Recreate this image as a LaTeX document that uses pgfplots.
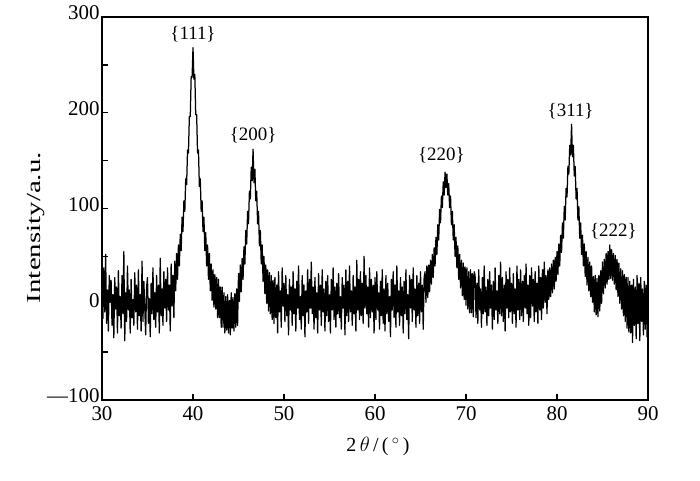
\documentclass[border=0pt]{standalone}
\usepackage{graphicx}
\usepackage{pgfplots}
\pgfplotsset{compat=1.18}
\usepackage{fontspec}
\setmainfont{Liberation Serif}

\begin{document}
\begin{tikzpicture}
\path[use as bounding box] (-102bp,-81bp) rectangle (598bp,400bp);

\begin{axis}[
    at={(0,0)}, anchor=south west,
    scale only axis,
    width=546bp, height=383bp,
    xmin=30, xmax=90, ymin=-100, ymax=300,
    xtick={30,40,...,90},
    ytick={-100,0,100,200,300},
    yticklabels={—100,0,100,200,300},
    minor ytick={-50,50,150,250},
    xtick pos=bottom, ytick pos=left,
    tick align=inside,
    major tick length=6bp, minor tick length=6bp,
    axis line style={line width=1.4bp},
    every tick/.style={line width=1.4bp, black},
    tick label style={font=\fontsize{21}{23}\selectfont},
    xticklabel style={yshift=-3bp},
    yticklabel style={xshift=1bp, yshift=4bp},
    /pgf/number format/assume math mode=true,
    label style={font=\fontsize{20}{22}\selectfont},
    xlabel={2\,$\theta$\,/\,(\,$^\circ$\,)},
    ylabel={\scalebox{1.45}[1]{Intensity/a.u.}},
    xlabel style={yshift=-10bp, xshift=3bp},
    ylabel style={at={(ticklabel cs:0.45)}, yshift=-4bp},
    clip=true,
]

% XRD pattern
\addplot[black, line width=1.25bp, line join=round] coordinates {
(30.0,20) (30.1,-15) (30.2,38) (30.3,-8) (30.4,52) (30.5,-20) (30.6,15) (30.7,-28) (30.8,30) (30.9,2)
(31.0,25) (31.1,-22) (31.2,10) (31.3,-35) (31.4,28) (31.5,-5) (31.6,18) (31.7,-30) (31.8,35) (31.9,-12)
(32.0,8) (32.1,-25) (32.2,30) (32.3,-10) (32.4,55) (32.5,-38) (32.6,12) (32.7,-18) (32.8,40) (32.9,-6)
(33.0,15) (33.1,-30) (33.2,26) (33.3,-14) (33.4,5) (33.5,-22) (33.6,33) (33.7,-8) (33.8,20) (33.9,-26)
(34.0,36) (34.1,-12) (34.2,10) (34.3,-28) (34.4,45) (34.5,-18) (34.6,24) (34.7,-4) (34.8,-32) (34.9,18)
(35.0,28) (35.1,-20) (35.2,6) (35.3,-34) (35.4,22) (35.5,-10) (35.6,38) (35.7,-16) (35.8,12) (35.9,-24)
(36.0,30) (36.1,-8) (36.2,20) (36.3,-30) (36.4,48) (36.5,-12) (36.6,16) (36.7,-22) (36.8,34) (36.9,-4)
(37.0,26) (37.1,-18) (37.2,38) (37.3,-6) (37.4,20) (37.5,-28) (37.6,42) (37.7,-2) (37.8,30) (37.9,-14)
(38.0,45) (38.1,14) (38.2,53) (38.3,26) (38.4,62) (38.5,40) (38.6,73) (38.7,56) (38.8,91) (38.9,76)
(39.0,108) (39.1,97) (39.2,131) (39.3,125) (39.4,161) (39.5,158) (39.6,196) (39.7,196) (39.8,238) (39.9,237)
(40.0,268) (40.1,235) (40.2,240) (40.3,198) (40.4,198) (40.5,158) (40.6,161) (40.7,123) (40.8,131) (40.9,97)
(41.0,108) (41.1,76) (41.2,91) (41.3,56) (41.4,75) (41.5,40) (41.6,62) (41.7,26) (41.8,53) (41.9,14)
(42.0,42) (42.1,4) (42.2,36) (42.3,-3) (42.4,31) (42.5,-5) (42.6,28) (42.7,-14) (42.8,26) (42.9,-14)
(43.0,18) (43.1,-24) (43.2,18) (43.3,-24) (43.4,12) (43.5,-30) (43.6,8) (43.7,-27) (43.8,10) (43.9,-30)
(44.0,4) (44.1,-32) (44.2,12) (44.3,-25) (44.4,7) (44.5,-28) (44.6,11) (44.7,-24) (44.8,16) (44.9,-22)
(45.0,32) (45.1,3) (45.2,41) (45.3,13) (45.4,48) (45.5,26) (45.6,60) (45.7,42) (45.8,77) (45.9,63)
(46.0,97) (46.1,84) (46.2,118) (46.3,110) (46.4,143) (46.5,129) (46.6,162) (46.7,127) (46.8,141) (46.9,108)
(47.0,118) (47.1,84) (47.2,97) (47.3,61) (47.4,77) (47.5,42) (47.6,62) (47.7,24) (47.8,50) (47.9,11)
(48.0,41) (48.1,1) (48.2,36) (48.3,-7) (48.4,33) (48.5,-10) (48.6,30) (48.7,-16) (48.8,25) (48.9,-20)
(49.0,28) (49.1,-14) (49.2,20) (49.3,-30) (49.4,34) (49.5,-8) (49.6,14) (49.7,-24) (49.8,38) (49.9,-2)
(50.0,22) (50.1,-18) (50.2,30) (50.3,-12) (50.4,10) (50.5,-32) (50.6,26) (50.7,-6) (50.8,18) (50.9,-22)
(51.0,34) (51.1,-10) (51.2,16) (51.3,-28) (51.4,24) (51.5,-4) (51.6,40) (51.7,-16) (51.8,8) (51.9,-26)
(52.0,30) (52.1,-12) (52.2,20) (52.3,-34) (52.4,14) (52.5,-8) (52.6,36) (52.7,-20) (52.8,26) (52.9,-4)
(53.0,44) (53.1,-10) (53.2,18) (53.3,-26) (53.4,28) (53.5,-14) (53.6,12) (53.7,-30) (53.8,32) (53.9,-6)
(54.0,20) (54.1,-22) (54.2,36) (54.3,-8) (54.4,16) (54.5,-28) (54.6,24) (54.7,-12) (54.8,30) (54.9,-18)
(55.0,10) (55.1,-30) (55.2,26) (55.3,-6) (55.4,38) (55.5,-16) (55.6,18) (55.7,-24) (55.8,22) (55.9,-10)
(56.0,32) (56.1,-14) (56.2,8) (56.3,-26) (56.4,28) (56.5,-4) (56.6,20) (56.7,-32) (56.8,36) (56.9,-12)
(57.0,24) (57.1,-18) (57.2,40) (57.3,-8) (57.4,14) (57.5,-22) (57.6,30) (57.7,-10) (57.8,18) (57.9,-28)
(58.0,46) (58.1,-6) (58.2,26) (58.3,-16) (58.4,34) (58.5,-12) (58.6,22) (58.7,-20) (58.8,50) (58.9,-4)
(59.0,30) (59.1,-10) (59.2,18) (59.3,-24) (59.4,38) (59.5,-14) (59.6,26) (59.7,-8) (59.8,20) (59.9,-30)
(60.0,28) (60.1,-16) (60.2,34) (60.3,-6) (60.4,12) (60.5,-26) (60.6,24) (60.7,-12) (60.8,36) (60.9,-20)
(61.0,16) (61.1,-28) (61.2,30) (61.3,-10) (61.4,22) (61.5,-18) (61.6,8) (61.7,-34) (61.8,26) (61.9,-6)
(62.0,34) (62.1,-14) (62.2,20) (62.3,-24) (62.4,40) (62.5,-8) (62.6,14) (62.7,-22) (62.8,28) (62.9,-12)
(63.0,18) (63.1,-30) (63.2,24) (63.3,-10) (63.4,36) (63.5,-16) (63.6,10) (63.7,-36) (63.8,30) (63.9,-4)
(64.0,26) (64.1,-18) (64.2,38) (64.3,-6) (64.4,16) (64.5,-24) (64.6,30) (64.7,-12) (64.8,22) (64.9,-20)
(65.0,34) (65.1,-8) (65.2,20) (65.3,-26) (65.4,28) (65.5,34) (65.6,2) (65.7,40) (65.8,7) (65.9,41)
(66.0,13) (66.1,46) (66.2,21) (66.3,52) (66.4,28) (66.5,59) (66.6,40) (66.7,70) (66.8,52) (66.9,83)
(67.0,67) (67.1,99) (67.2,85) (67.3,113) (67.4,101) (67.5,128) (67.6,114) (67.7,138) (67.8,122) (67.9,136)
(68.0,114) (68.1,126) (68.2,101) (68.3,113) (68.4,83) (68.5,97) (68.6,67) (68.7,83) (68.8,50) (68.9,70)
(69.0,38) (69.1,61) (69.2,26) (69.3,52) (69.4,17) (69.5,46) (69.6,9) (69.7,43) (69.8,5) (69.9,39)
(70.0,-1) (70.1,38) (70.2,-5) (70.3,34) (70.4,-9) (70.5,36) (70.6,-9) (70.7,32) (70.8,-13) (70.9,34)
(71.0,30) (71.1,-14) (71.2,22) (71.3,-20) (71.4,36) (71.5,-6) (71.6,16) (71.7,-24) (71.8,28) (71.9,-10)
(72.0,40) (72.1,-8) (72.2,18) (72.3,-22) (72.4,26) (72.5,-12) (72.6,34) (72.7,-4) (72.8,20) (72.9,-26)
(73.0,24) (73.1,-16) (73.2,38) (73.3,-6) (73.4,14) (73.5,-20) (73.6,30) (73.7,-10) (73.8,44) (73.9,-12)
(74.0,28) (74.1,-18) (74.2,20) (74.3,-28) (74.4,34) (74.5,-4) (74.6,26) (74.7,-14) (74.8,38) (74.9,-8)
(75.0,22) (75.1,-20) (75.2,32) (75.3,-10) (75.4,16) (75.5,-24) (75.6,40) (75.7,-6) (75.8,26) (75.9,-16)
(76.0,36) (76.1,-12) (76.2,24) (76.3,-18) (76.4,30) (76.5,-4) (76.6,42) (76.7,-10) (76.8,20) (76.9,-22)
(77.0,30) (77.1,-14) (77.2,38) (77.3,-2) (77.4,26) (77.5,-18) (77.6,34) (77.7,-8) (77.8,22) (77.9,-20)
(78.0,40) (78.1,-6) (78.2,28) (78.3,-16) (78.4,36) (78.5,-4) (78.6,44) (78.7,2) (78.8,30) (78.9,-10)
(79.0,36) (79.1,5) (79.2,38) (79.3,8) (79.4,42) (79.5,12) (79.6,46) (79.7,16) (79.8,49) (79.9,24)
(80.0,55) (80.1,31) (80.2,63) (80.3,40) (80.4,72) (80.5,54) (80.6,85) (80.7,69) (80.8,102) (80.9,88)
(81.0,121) (81.1,112) (81.2,144) (81.3,136) (81.4,166) (81.5,156) (81.6,188) (81.7,154) (81.8,166) (81.9,134)
(82.0,144) (82.1,110) (82.2,121) (82.3,88) (82.4,102) (82.5,69) (82.6,85) (82.7,52) (82.8,72) (82.9,40)
(83.0,63) (83.1,29) (83.2,55) (83.3,20) (83.4,49) (83.5,14) (83.6,44) (83.7,8) (83.8,40) (83.9,2)
(84.0,29) (84.1,-8) (84.2,30) (84.3,-11) (84.4,27) (84.5,-13) (84.6,30) (84.7,-7) (84.8,35) (84.9,1)
(85.0,44) (85.1,11) (85.2,47) (85.3,17) (85.4,53) (85.5,21) (85.6,55) (85.7,26) (85.8,62) (85.9,27)
(86.0,57) (86.1,25) (86.2,53) (86.3,21) (86.4,51) (86.5,15) (86.6,47) (86.7,8) (86.8,43) (86.9,1)
(87.0,37) (87.1,-5) (87.2,35) (87.3,-12) (87.4,31) (87.5,-18) (87.6,28) (87.7,-25) (87.8,28) (87.9,-29)
(88.0,24) (88.1,-30) (88.2,20) (88.3,-40) (88.4,26) (88.5,-22) (88.6,18) (88.7,-36) (88.8,30) (88.9,-20)
(89.0,22) (89.1,-38) (89.2,28) (89.3,-18) (89.4,16) (89.5,-32) (89.6,24) (89.7,-26) (89.8,20) (89.9,-34)
(90.0,10)
};

\node[font=\fontsize{19}{22}\selectfont] at (axis cs:40.0,282) {\{111\}};
\node[font=\fontsize{19}{22}\selectfont] at (axis cs:46.6,177) {\{200\}};
\node[font=\fontsize{19}{22}\selectfont] at (axis cs:67.3,156) {\{220\}};
\node[font=\fontsize{19}{22}\selectfont] at (axis cs:81.5,202) {\{311\}};
\node[font=\fontsize{19}{22}\selectfont] at (axis cs:86.2,76) {\{222\}};

\end{axis}
\end{tikzpicture}
\end{document}
